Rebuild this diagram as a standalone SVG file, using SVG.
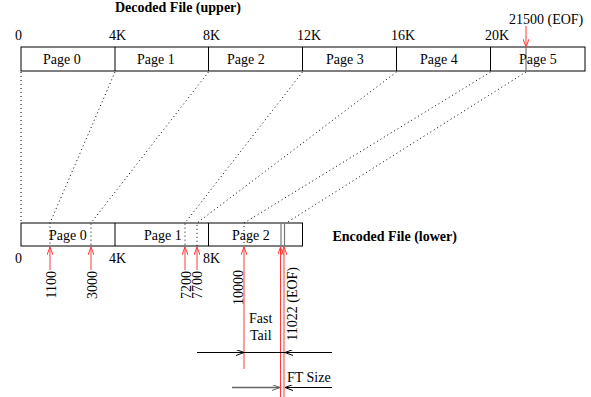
<svg xmlns="http://www.w3.org/2000/svg" width="591" height="397" viewBox="0 0 591 397">
<style>
text{font-family:"Liberation Serif","Times New Roman",serif;font-size:14px;fill:#000}
.b{font-weight:bold}
.box{fill:#fff;stroke:#000;stroke-width:1}
.div{stroke:#000;stroke-width:1}
.gray{stroke:#777;stroke-width:1.2}
.dot{stroke:#000;stroke-width:1;stroke-dasharray:1 3;fill:none}
.red{stroke:#ff3838;stroke-width:1;fill:none;marker-end:url(#ar)}
.blk{stroke:#000;stroke-width:1;fill:none}
</style>
<defs>
<marker id="ar" viewBox="0 0 8 6" refX="8" refY="3" markerWidth="8" markerHeight="6" markerUnits="userSpaceOnUse" orient="auto">
<path d="M0,0 L8,3 L0,6" fill="none" stroke="#ff3838" stroke-width="1"/>
</marker>
<marker id="ak" viewBox="0 0 8 6" refX="8" refY="3" markerWidth="8" markerHeight="6" markerUnits="userSpaceOnUse" orient="auto">
<path d="M0,0 L8,3 L0,6" fill="none" stroke="#000" stroke-width="1"/>
</marker>
<marker id="ag" viewBox="0 0 8 6" refX="8" refY="3" markerWidth="8" markerHeight="6" markerUnits="userSpaceOnUse" orient="auto">
<path d="M0,0 L8,3 L0,6" fill="none" stroke="#666" stroke-width="1"/>
</marker>
</defs>

<text id="title-upper" class="b" x="115" y="12">Decoded File (upper)</text>
<text id="title-lower" class="b" x="332.5" y="241">Encoded File (lower)</text>

<g id="upper-file">
<rect class="box" x="21" y="47" width="564" height="24"/>
<line class="div" x1="115" y1="47" x2="115" y2="71"/>
<line class="div" x1="208.5" y1="47" x2="208.5" y2="71"/>
<line class="div" x1="302.5" y1="47" x2="302.5" y2="71"/>
<line class="div" x1="396.5" y1="47" x2="396.5" y2="71"/>
<line class="div" x1="490.5" y1="47" x2="490.5" y2="71"/>
<line class="gray" x1="526" y1="47" x2="526" y2="71"/>
<text x="43" y="64">Page 0</text>
<text x="137" y="64">Page 1</text>
<text x="227" y="64">Page 2</text>
<text x="326" y="64">Page 3</text>
<text x="420" y="64">Page 4</text>
<text x="519" y="64">Page 5</text>
<text x="15" y="40">0</text>
<text x="109" y="40">4K</text>
<text x="203" y="40">8K</text>
<text x="297" y="40">12K</text>
<text x="391" y="40">16K</text>
<text x="485" y="40">20K</text>
<text x="509" y="24">21500 (EOF)</text>
</g>

<g id="lower-file">
<rect class="box" x="21" y="223" width="281.5" height="23"/>
<line class="div" x1="115" y1="223" x2="115" y2="246"/>
<line class="div" x1="208.5" y1="223" x2="208.5" y2="246"/>
<line class="gray" x1="281" y1="223" x2="281" y2="246"/>
<line class="gray" x1="284.5" y1="223" x2="284.5" y2="246"/>
<text x="49" y="240">Page 0</text>
<text x="144" y="240">Page 1</text>
<text x="232" y="240">Page 2</text>
<text x="15" y="263">0</text>
<text x="109" y="263">4K</text>
<text x="203" y="263">8K</text>
</g>

<g id="connectors">
<path class="dot" d="M21,72 L21,223"/>
<path class="dot" d="M115,72 L50,223 L50,246"/>
<path class="dot" d="M208.5,72 L91,223 L91,246"/>
<path class="dot" d="M302.5,72 L185,223 L185,246"/>
<path class="dot" d="M396.5,72 L197,223 L197,246"/>
<path class="dot" d="M490.5,72 L244,223 L244,246"/>
<path class="dot" d="M526,72 L286,223"/>

<line class="red" x1="526" y1="26" x2="526" y2="47"/>
<line class="red" x1="50" y1="270" x2="50" y2="247"/>
<line class="red" x1="91" y1="270" x2="91" y2="247"/>
<line class="red" x1="185" y1="270" x2="185" y2="247"/>
<line class="red" x1="197" y1="270" x2="197" y2="247"/>
<line class="red" x1="244" y1="369" x2="244" y2="247"/>
<line class="red" x1="280.5" y1="397" x2="280.5" y2="247"/>
<line class="red" x1="284" y1="397" x2="284" y2="247"/>

<line class="blk" x1="197" y1="352.5" x2="244" y2="352.5" marker-end="url(#ak)"/>
<line class="blk" x1="244" y1="352.5" x2="285" y2="352.5"/>
<line class="blk" x1="332" y1="352.5" x2="285" y2="352.5" marker-end="url(#ak)"/>
<line x1="232" y1="387.5" x2="280" y2="387.5" stroke="#666" stroke-width="1.5" marker-end="url(#ag)"/>
<line class="blk" x1="332" y1="387.5" x2="285" y2="387.5" marker-end="url(#ak)"/>
</g>

<g id="labels">
<text transform="translate(55.5,271) rotate(-90)" text-anchor="end">1100</text>
<text transform="translate(96.5,271) rotate(-90)" text-anchor="end">3000</text>
<text transform="translate(190.5,271) rotate(-90)" text-anchor="end">7200</text>
<text transform="translate(201.5,271) rotate(-90)" text-anchor="end">7700</text>
<text transform="translate(243,270) rotate(-90)" text-anchor="end">10000</text>
<text transform="translate(297,267) rotate(-90)" text-anchor="end">11022 (EOF)</text>
<text x="249" y="323">Fast</text>
<text x="250" y="340">Tail</text>
<text x="287" y="382">FT Size</text>
</g>
</svg>
